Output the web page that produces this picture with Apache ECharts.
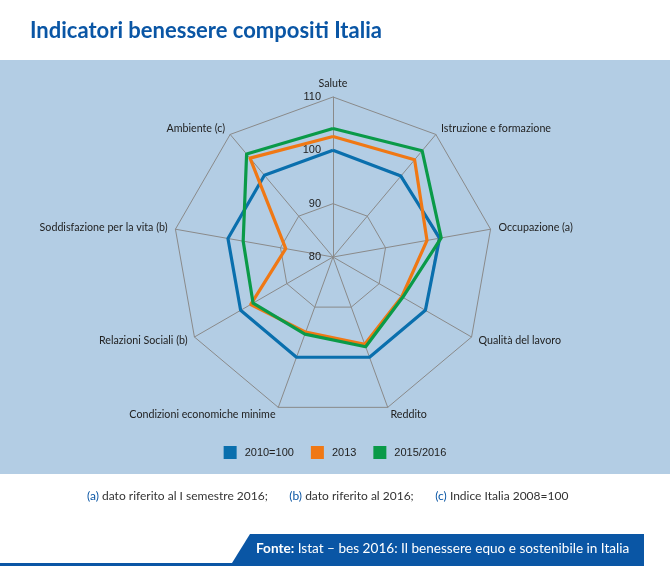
<!DOCTYPE html>
<html>
<head>
<meta charset="utf-8">
<script src="https://cdn.jsdelivr.net/npm/echarts@6/dist/echarts.min.js"></script>
<style>
  html, body { margin: 0; padding: 0; background: #fff; }
  #radar { width: 670px; height: 566px; }
</style>
</head>
<body>
<div id="radar"></div>
<script>
// indicatori in senso antiorario a partire da Salute (come li dispone ECharts)
const indicators = [
  "Salute",
  "Ambiente (c)",
  "Soddisfazione per la vita (b)",
  "Relazioni Sociali (b)",
  "Condizioni economiche minime",
  "Reddito",
  "Qualità del lavoro",
  "Occupazione (a)",
  "Istruzione e formazione"
];
const seriesNames = ["2010=100", "2013", "2015/2016"];
const values2010 = [100, 100, 100, 100, 100, 100, 100, 100.3, 99.8];
const values2013 = [102.6, 104.2, 89.0, 97.8, 95.0, 97.4, 94.9, 97.9, 103.8];
const values2016 = [104.1, 105.2, 97.1, 97.3, 95.4, 97.9, 95.1, 100.6, 106.0];
const axisMin = 80;
const axisMax = 110;
const colors = ["#0a6fad", "#f07814", "#0a9a48"];

const myChart = echarts.init(document.getElementById("radar"));

const option = {
  animation: false,
  color: colors,
  graphic: [
    // pannello azzurro
    { type: "rect", z: -10, shape: { x: 0, y: 60, width: 670, height: 414 }, style: { fill: "#b3cde4" } },
    {
      type: "text", left: 30, top: 20,
      style: { text: "Indicatori benessere compositi Italia", font: "bold 22px Lato, sans-serif", fill: "#0a56a5" }
    },
    {
      type: "text", left: 87, top: 490,
      style: {
        text: "{b|(a)} dato riferito al I semestre 2016;       {b|(b)} dato riferito al 2016;       {b|(c)} Indice Italia 2008=100",
        font: "12px Lato, sans-serif", fill: "#333",
        rich: { b: { fill: "#0a56a5", font: "12px Lato, sans-serif" } }
      }
    },
    // riquadro fonte
    { type: "polygon", shape: { points: [[232, 563], [250, 534], [644, 534], [644, 563]] }, style: { fill: "#0a56a5" } },
    { type: "rect", shape: { x: 0, y: 563, width: 644, height: 3 }, style: { fill: "#0a56a5" } },
    {
      type: "text", left: 256, top: 542,
      style: {
        text: "{f|Fonte:} Istat – bes 2016: Il benessere equo e sostenibile in Italia",
        font: "13.6px Lato, sans-serif", fill: "#fff",
        rich: { f: { font: "bold 13.6px Lato, sans-serif", fill: "#fff" } }
      }
    }
  ],
  legend: {
    data: seriesNames,
    left: "center",
    top: 441,
    icon: "rect",
    itemWidth: 13,
    itemHeight: 13,
    itemGap: 17,
    textStyle: { fontFamily: "Arial, Liberation Sans, sans-serif", fontSize: 11, color: "#222", padding: [0, 0, 0, 3] }
  },
  radar: {
    center: [333, 257],
    radius: 160,
    startAngle: 90,
    splitNumber: 3,
    shape: "polygon",
    indicator: indicators.map((name, i) => {
      const ind = { name: name, min: axisMin, max: axisMax };
      if (i === 0) {
        ind.axisLabel = {
          show: true, color: "#222", fontSize: 11, align: "right",
          fontFamily: "Arial, Liberation Sans, sans-serif", margin: 12
        };
      }
      return ind;
    }),
    axisName: { color: "#222", fontSize: 10.7, fontFamily: "Lato, sans-serif" },
    nameGap: 8,
    axisLine: { lineStyle: { color: "#8a8a8a", width: 1 } },
    splitLine: { lineStyle: { color: "#8a8a8a", width: 1 } },
    splitArea: { show: false },
    axisLabel: { show: false },
    axisTick: { show: false }
  },
  series: [
    {
      type: "radar",
      symbol: "none",
      lineStyle: { width: 3.2 },
      data: [
        { name: seriesNames[0], value: values2010, lineStyle: { color: colors[0] }, itemStyle: { color: colors[0] } },
        { name: seriesNames[1], value: values2013, lineStyle: { color: colors[1] }, itemStyle: { color: colors[1] } },
        { name: seriesNames[2], value: values2016, lineStyle: { color: colors[2] }, itemStyle: { color: colors[2] } }
      ]
    }
  ]
};

myChart.setOption(option);
</script>
</body>
</html>
